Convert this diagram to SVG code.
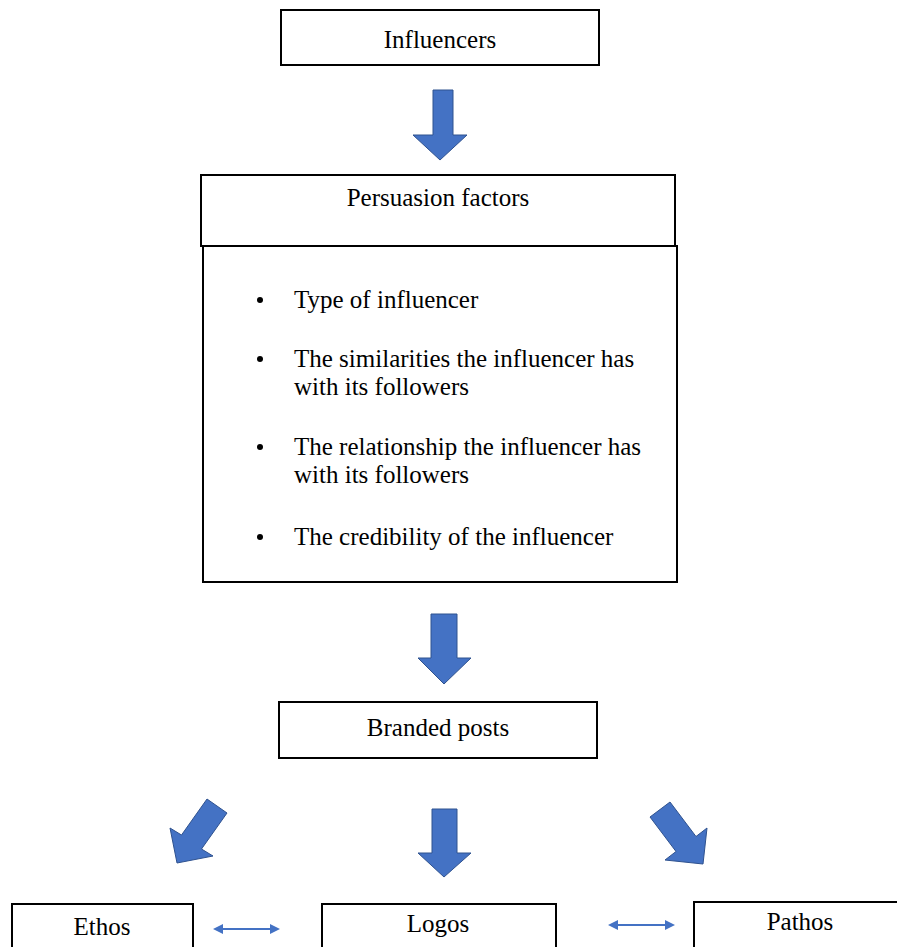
<svg xmlns="http://www.w3.org/2000/svg" width="897" height="947" viewBox="0 0 897 947">
<style>
.box{fill:#fff;stroke:#000;stroke-width:2}
.t{font-family:"Liberation Serif","Times New Roman",serif;font-size:25px;fill:#000}
.c{text-anchor:middle}
.arr{fill:#4472C4;stroke:#2F528F;stroke-width:1}
.dbl{stroke:#4472C4;stroke-width:2;fill:none}
.dh{fill:#4472C4}
</style>
<rect width="897" height="947" fill="#fff"/>
<g id="connectors">
<polygon class="arr" points="433,90 453,90 453,135 467,135 440,160 413,135 433,135"/>
<polygon class="arr" points="431,614 457,614 457,658 471,658 444,684 418,658 431,658"/>
<polygon class="arr" points="432,809 457,809 457,853 471,853 444,877 418,853 432,853"/>
<polygon class="arr" points="207,799 227,813 201.5,849 213,856 177,863 170,828 181.5,835"/>
<polygon class="arr" points="650,817 670,802 696,836.5 707,828 703,864 665,860 676,851.5"/>
<line class="dbl" x1="220" y1="929" x2="273" y2="929"/>
<polygon class="dh" points="213,929 223,924 223,934"/>
<polygon class="dh" points="280,929 270,924 270,934"/>
<line class="dbl" x1="615" y1="925" x2="668" y2="925"/>
<polygon class="dh" points="608,925 618,920 618,930"/>
<polygon class="dh" points="675,925 665,920 665,930"/>
</g>
<g id="influencers">
<rect class="box" x="281" y="10" width="318" height="55"/>
<text class="t c" x="440" y="48">Influencers</text>
</g>
<g id="persuasion-factors">
<rect class="box" x="203" y="246" width="474" height="336"/>
<rect class="box" x="201" y="175" width="474" height="71"/>
<text class="t c" x="438" y="206">Persuasion factors</text>
<g class="t">
<circle cx="260" cy="300" r="3"/>
<text x="294" y="308">Type of influencer</text>
<circle cx="260" cy="359" r="3"/>
<text x="294" y="367">The similarities the influencer has</text>
<text x="294" y="395">with its followers</text>
<circle cx="260" cy="447" r="3"/>
<text x="294" y="455">The relationship the influencer has</text>
<text x="294" y="483">with its followers</text>
<circle cx="260" cy="537" r="3"/>
<text x="294" y="545">The credibility of the influencer</text>
</g>
</g>
<g id="branded-posts">
<rect class="box" x="279" y="702" width="318" height="56"/>
<text class="t c" x="438" y="736">Branded posts</text>
</g>
<g id="ethos">
<rect class="box" x="12" y="904" width="181" height="60"/>
<text class="t c" x="102" y="935">Ethos</text>
</g>
<g id="logos">
<rect class="box" x="322" y="904" width="234" height="60"/>
<text class="t c" x="438" y="932">Logos</text>
</g>
<g id="pathos">
<rect class="box" x="694" y="902" width="220" height="60"/>
<text class="t c" x="800" y="930">Pathos</text>
</g>
</svg>
